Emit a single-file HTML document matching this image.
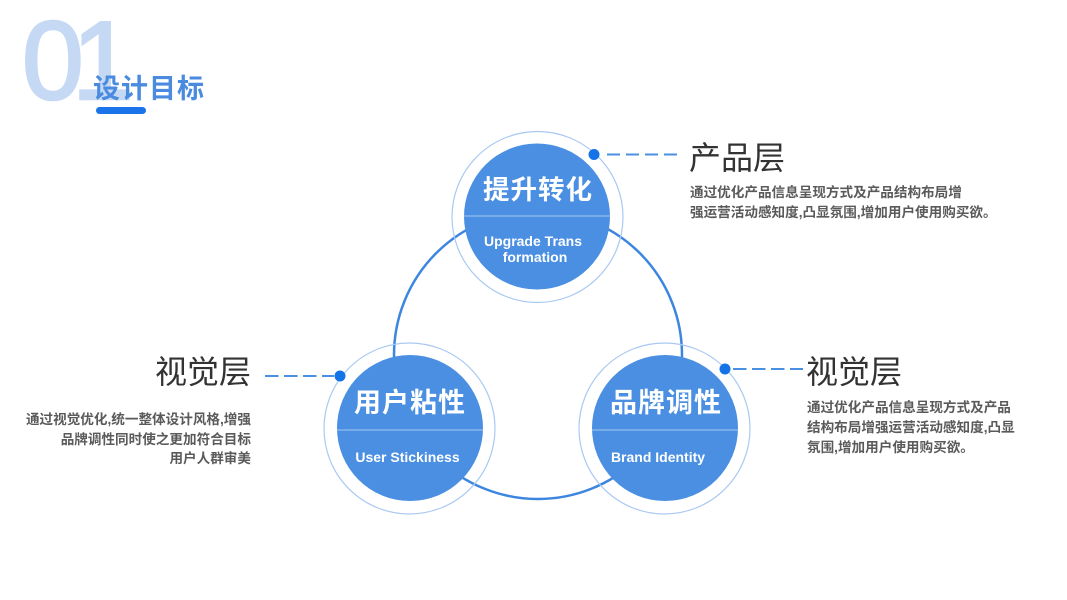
<!DOCTYPE html>
<html>
<head>
<meta charset="utf-8">
<style>
  html, body { margin:0; padding:0; background:#ffffff; }
  body { width:1067px; height:600px; overflow:hidden; position:relative; }
  svg { position:absolute; left:0; top:0; }
  .cjk { font-family: "Liberation Sans", "Noto Sans CJK SC", sans-serif; }
</style>
</head>
<body>
<svg width="1067" height="600" viewBox="0 0 1067 600" xmlns="http://www.w3.org/2000/svg">
  <!-- Header -->
  <text x="22" y="99" font-family="Liberation Sans, sans-serif" font-size="111" fill="#c6d9f4" stroke="#c6d9f4" stroke-width="2.5">0</text>
  <text x="72" y="99" font-family="Liberation Sans, sans-serif" font-size="111" fill="#c6d9f4" stroke="#c6d9f4" stroke-width="2.5">1</text>
  <text x="93" y="98" class="cjk" font-size="27" font-weight="bold" fill="#4a8be0" letter-spacing="1">设计目标</text>
  <rect x="96" y="107" width="50" height="7" rx="3.5" fill="#1a73e8"/>

  <!-- Big connecting circle -->
  <circle cx="538" cy="355" r="144" fill="none" stroke="#3d86e0" stroke-width="2.5"/>

  <!-- Top node -->
  <circle cx="537.5" cy="217" r="85.5" fill="none" stroke="#a9c9f2" stroke-width="1.2"/>
  <circle cx="537" cy="216.5" r="73" fill="#4a8fe2"/>
  <line x1="464" y1="216" x2="610" y2="216" stroke="#a6c8f0" stroke-width="1"/>
  <text x="538" y="199" text-anchor="middle" class="cjk" font-size="26.5" font-weight="bold" fill="#ffffff" letter-spacing="1">提升转化</text>
  <text x="533" y="246" text-anchor="middle" font-family="Liberation Sans, sans-serif" font-size="14" font-weight="bold" fill="#ffffff">Upgrade Trans</text>
  <text x="535" y="262" text-anchor="middle" font-family="Liberation Sans, sans-serif" font-size="14" font-weight="bold" fill="#ffffff">formation</text>

  <!-- Bottom-left node -->
  <circle cx="409.5" cy="428.5" r="85.5" fill="none" stroke="#a9c9f2" stroke-width="1.2"/>
  <circle cx="410" cy="428" r="73" fill="#4a8fe2"/>
  <line x1="337" y1="430" x2="483" y2="430" stroke="#a6c8f0" stroke-width="1"/>
  <text x="410" y="412" text-anchor="middle" class="cjk" font-size="27" font-weight="bold" fill="#ffffff" letter-spacing="1">用户粘性</text>
  <text x="407.5" y="462" text-anchor="middle" font-family="Liberation Sans, sans-serif" font-size="14" font-weight="bold" fill="#ffffff">User Stickiness</text>

  <!-- Bottom-right node -->
  <circle cx="664.5" cy="428.5" r="85.5" fill="none" stroke="#a9c9f2" stroke-width="1.2"/>
  <circle cx="665" cy="428" r="73" fill="#4a8fe2"/>
  <line x1="592" y1="430" x2="738" y2="430" stroke="#a6c8f0" stroke-width="1"/>
  <text x="666" y="412" text-anchor="middle" class="cjk" font-size="27" font-weight="bold" fill="#ffffff" letter-spacing="1">品牌调性</text>
  <text x="658" y="462" text-anchor="middle" font-family="Liberation Sans, sans-serif" font-size="14" font-weight="bold" fill="#ffffff">Brand Identity</text>

  <!-- Top connector -->
  <line x1="607" y1="154.5" x2="677" y2="154.5" stroke="#4a90e2" stroke-width="2" stroke-dasharray="13 6"/>
  <circle cx="594" cy="154.5" r="5.5" fill="#1473e6"/>
  <text x="689" y="169" class="cjk" font-size="32" fill="#333333">产品层</text>
  <text x="690" y="197" class="cjk" font-size="13.6" font-weight="bold" fill="#5a5a5a">通过优化产品信息呈现方式及产品结构布局增</text>
  <text x="690" y="217" class="cjk" font-size="13.6" font-weight="bold" fill="#5a5a5a">强运营活动感知度,凸显氛围,增加用户使用购买欲。</text>

  <!-- Left connector -->
  <line x1="265" y1="376" x2="334" y2="376" stroke="#4a90e2" stroke-width="2" stroke-dasharray="13.5 5.5"/>
  <circle cx="340" cy="376" r="5.5" fill="#1473e6"/>
  <text x="251" y="383" text-anchor="end" class="cjk" font-size="32" fill="#333333">视觉层</text>
  <text x="251" y="424" text-anchor="end" class="cjk" font-size="13.6" font-weight="bold" fill="#5a5a5a">通过视觉优化,统一整体设计风格,增强</text>
  <text x="251" y="444" text-anchor="end" class="cjk" font-size="13.6" font-weight="bold" fill="#5a5a5a">品牌调性同时使之更加符合目标</text>
  <text x="251" y="463" text-anchor="end" class="cjk" font-size="13.6" font-weight="bold" fill="#5a5a5a">用户人群审美</text>

  <!-- Right connector -->
  <line x1="733" y1="369" x2="803" y2="369" stroke="#4a90e2" stroke-width="2" stroke-dasharray="13.5 5.5"/>
  <circle cx="725" cy="369" r="5.5" fill="#1473e6"/>
  <text x="806" y="383" class="cjk" font-size="32" fill="#333333">视觉层</text>
  <text x="807" y="412" class="cjk" font-size="13.6" font-weight="bold" fill="#5a5a5a">通过优化产品信息呈现方式及产品</text>
  <text x="807" y="432" class="cjk" font-size="13.6" font-weight="bold" fill="#5a5a5a">结构布局增强运营活动感知度,凸显</text>
  <text x="807" y="452" class="cjk" font-size="13.6" font-weight="bold" fill="#5a5a5a">氛围,增加用户使用购买欲。</text>
</svg>
</body>
</html>
